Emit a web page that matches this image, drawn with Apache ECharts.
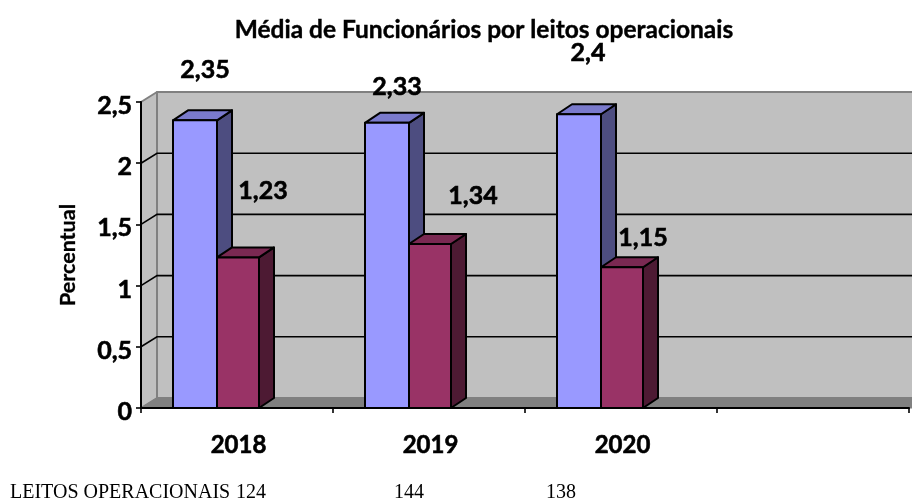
<!DOCTYPE html>
<html>
<head>
<meta charset="utf-8">
<style>
html,body{margin:0;padding:0;background:#fff}
#myChart{width:912px;height:500px}
</style>
<script src="https://cdn.jsdelivr.net/npm/echarts@6/dist/echarts.min.js"></script>
</head>
<body>
<div id="myChart"></div>
<script>
var years = ['2018', '2019', '2020', ''];
var serieA = [2.35, 2.33, 2.4];
var serieB = [1.23, 1.34, 1.15];
var yTicks = [0, 0.5, 1, 1.5, 2, 2.5];
var leitosNome = 'LEITOS OPERACIONAIS';
var leitos = ['124', '144', '138'];

// look of the fake 3D
var depthX = 15, depthY = 10;
var font = 'Lato, "Open Sans", sans-serif';
var serifFont = '"Liberation Serif", serif';
// where each value label sits, measured from the top of its bar
var shiftA = [[10, -50], [10, -36], [9, -61]];
var shiftB = [[25, -67], [43, -48], [21, -29]];

function fmt(v) {
  return String(v).replace('.', ',');
}

function poly(points, fill, stroke, lw) {
  return {
    type: 'polygon',
    shape: { points: points },
    style: { fill: fill, stroke: stroke, lineWidth: lw, lineJoin: 'round' }
  };
}

function renderWall(params, api) {
  var c = params.coordSys;
  var left = c.x, right = c.x + c.width + 40;
  var top = c.y, bottom = c.y + c.height;
  var kids = [];
  // side wall, back wall, floor
  kids.push(poly([[left, bottom], [left + depthX + 1, bottom - depthY], [left + depthX + 1, top - depthY], [left, top]], '#c0c0c0', '#808080', 2));
  kids.push(poly([[left + depthX + 1, top - depthY], [right, top - depthY], [right, bottom - depthY], [left + depthX + 1, bottom - depthY]], '#c0c0c0', '#808080', 2));
  kids.push(poly([[left, bottom], [left + depthX + 1, bottom - depthY], [right, bottom - depthY], [right, bottom]], '#808080', '#808080', 1));
  yTicks.forEach(function (t) {
    if (t === 0 || t === 2.5) return;
    var y = api.coord([0, t])[1];
    kids.push({
      type: 'polyline',
      shape: { points: [[left, y], [left + depthX + 1, y - depthY], [right, y - depthY]] },
      style: { fill: null, stroke: '#000', lineWidth: 1.6 }
    });
  });
  return { type: 'group', children: kids };
}

function barSeries(name, values, from, to, front, side, cap, shift) {
  return {
    name: name,
    type: 'custom',
    coordinateSystem: 'cartesian2d',
    clip: false,
    z: 3,
    data: values.map(function (v, i) { return [i, v]; }),
    encode: { x: 0, y: 1 },
    renderItem: function (params, api) {
      var i = api.value(0), v = api.value(1);
      var band = api.size([1, 0])[0];
      var base = api.coord([i, 0]);
      var head = api.coord([i, v]);
      var x0 = base[0] - band / 2 + band * from;
      var x1 = base[0] - band / 2 + band * to;
      var y0 = base[1], y1 = head[1];
      return {
        type: 'group',
        children: [
          poly([[x1, y0], [x1 + depthX, y0 - depthY], [x1 + depthX, y1 - depthY], [x1, y1]], side, '#000', 2),
          poly([[x0, y1], [x0 + depthX, y1 - depthY], [x1 + depthX, y1 - depthY], [x1, y1]], cap, '#000', 2),
          poly([[x0, y0], [x1, y0], [x1, y1], [x0, y1]], front, '#000', 2),
          {
            type: 'text',
            z2: 20,
            style: {
              x: (x0 + x1) / 2 + shift[i][0],
              y: y1 + shift[i][1],
              text: fmt(v),
              align: 'center',
              verticalAlign: 'middle',
              fill: '#000',
              stroke: '#000',
              lineWidth: 0.6,
              font: 'bold 25px ' + font
            }
          }
        ]
      };
    }
  };
}

function bottomText(x, s) {
  return { type: 'text', left: x, top: 483, style: { text: s, fill: '#000', font: '20px ' + serifFont } };
}

var option = {
  animation: false,
  backgroundColor: '#fff',
  title: {
    text: 'Média de Funcionários por leitos operacionais',
    left: 479,
    top: 13,
    textAlign: 'center',
    textStyle: { fontFamily: font, fontWeight: 'bold', fontSize: 24.5, color: '#000', textBorderColor: '#000', textBorderWidth: 0.4 }
  },
  grid: { left: 141, right: 3, top: 102, bottom: 92 },
  xAxis: {
    type: 'category',
    data: years,
    z: 5,
    axisLine: { lineStyle: { color: '#000', width: 2 } },
    axisTick: { show: true, length: 5, lineStyle: { color: '#000', width: 1.6 } },
    axisLabel: {
      color: '#000', fontFamily: font, fontWeight: 'bold', fontSize: 24, margin: 25,
      padding: [0, 0, 0, 3], textBorderColor: '#000', textBorderWidth: 0.6
    },
    splitLine: { show: false }
  },
  yAxis: {
    type: 'value',
    min: 0,
    max: 2.5,
    interval: 0.5,
    z: 5,
    name: 'Percentual',
    nameLocation: 'middle',
    nameGap: 62,
    nameTextStyle: {
      color: '#000', fontFamily: font, fontWeight: 'bold', fontSize: 21.5,
      textBorderColor: '#000', textBorderWidth: 0.3
    },
    axisLine: { show: true, lineStyle: { color: '#000', width: 2 } },
    axisTick: { show: true, length: 5, lineStyle: { color: '#000', width: 1.6 } },
    axisLabel: {
      color: '#000', fontFamily: font, fontWeight: 'bold', fontSize: 25, margin: 9,
      verticalAlign: 'top', lineHeight: 8, textBorderColor: '#000', textBorderWidth: 0.6,
      formatter: fmt
    },
    splitLine: { show: false }
  },
  graphic: [
    bottomText(10, leitosNome),
    bottomText(236, leitos[0]),
    bottomText(394, leitos[1]),
    bottomText(546, leitos[2])
  ],
  series: [
    {
      name: 'parede',
      type: 'custom',
      coordinateSystem: 'cartesian2d',
      clip: false,
      silent: true,
      z: 1,
      data: [[0, 0]],
      renderItem: renderWall
    },
    barSeries('Média', serieA, 32 / 192, 76 / 192, '#9999ff', '#4d4d80', '#7a7acc', shiftA),
    barSeries('Leitos', serieB, 76 / 192, 118 / 192, '#993366', '#4d1a33', '#7a2952', shiftB)
  ]
};

var myChart = echarts.init(document.getElementById('myChart'));
myChart.setOption(option);
</script>
</body>
</html>
